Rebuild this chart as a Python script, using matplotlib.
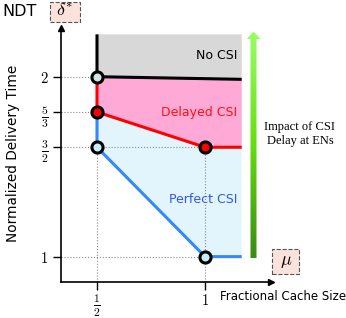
'''NDT 与缓存大小关系示意图'''

import numpy as np
import matplotlib.pyplot as plt
from matplotlib.patches import Polygon, Rectangle
from matplotlib.colors import LinearSegmentedColormap

plt.rcParams['mathtext.fontset'] = 'cm'

# 各区域边界线 (mu, NDT)
mu_no = [0.5, 0.5, 1.17]
ndt_no = [2.4, 2.0, 1.975]
mu_delayed = [0.5, 0.5, 1.0, 1.17]
ndt_delayed = [2.0, 5/3, 1.5, 1.5]
mu_perfect = [0.5, 0.5, 1.0, 1.17]
ndt_perfect = [5/3, 1.5, 1.0, 1.0]

# 角点
pts_mu = [0.5, 0.5, 0.5, 1.0, 1.0]
pts_ndt = [2.0, 5/3, 1.5, 1.5, 1.0]
pts_color = ['#d3e3e6', '#ff0000', '#c6eef8', '#ff0000', '#c6eef8']

# 刻度
yticks = [1, 1.5, 5/3, 2]
ytick_labels = ['$1$', r'$\frac{3}{2}$', r'$\frac{5}{3}$', '$2$']
xticks = [0.5, 1]
xtick_labels = [r'$\frac{1}{2}$', '$1$']

# 纵轴是示意刻度, 用分段线性映射
lv_ndt = [0, 1, 1.5, 5/3, 2, 3]
lv_pos = [-6.2, 0, 3.1, 4.1, 5.1, 8.1]
def fwd(v):
    return np.interp(v, lv_ndt, lv_pos)
def inv(p):
    return np.interp(p, lv_pos, lv_ndt)

fig = plt.figure(figsize=(3.46, 3.18), dpi=100)
ax = fig.add_axes([61/346, 36/318, 210/346, 254/318])
ax.set_yscale('function', functions=(fwd, inv))
ax.set_xlim(1/3, 1.3056)
ax.set_ylim(0.884, 2.46)

# 填充区域
ax.fill(mu_no + [1.17], ndt_no + [2.4], color='#d8d8d8', lw=0, zorder=1)
ax.fill(mu_no[1:] + mu_delayed[::-1], ndt_no[1:] + ndt_delayed[::-1],
        color='#ffaad6', lw=0, zorder=1)
ax.fill(mu_delayed[1:] + mu_perfect[::-1], ndt_delayed[1:] + ndt_perfect[::-1],
        color='#e2f5fc', lw=0, zorder=1)

# 虚线参考线
dot = dict(color='#8a8a8a', ls=':', lw=0.8, zorder=2)
ax.plot([1/3, 0.5], [2, 2], **dot)
ax.plot([1/3, 0.5], [5/3, 5/3], **dot)
ax.plot([1/3, 1.0], [1.5, 1.5], **dot)
ax.plot([1/3, 1.0], [1, 1], **dot)
ax.plot([0.5, 0.5], [0.884, 2], **dot)
ax.plot([1.0, 1.0], [0.884, 1.5], **dot)

# 边界线
ax.plot(mu_no, ndt_no, color='black', lw=2.2, zorder=3, solid_capstyle='butt')
ax.plot(mu_delayed, ndt_delayed, color='#ff0000', lw=2.2, zorder=3, solid_capstyle='butt')
ax.plot(mu_perfect, ndt_perfect, color='#3388ff', lw=2.2, zorder=3, solid_capstyle='butt')

# 角点标记
for m, n, c in zip(pts_mu, pts_ndt, pts_color):
    ax.plot(m, n, 'o', ms=8, mfc=c, mec='black', mew=2.2, zorder=4)

# 区域文字
ax.text(1.15, 2.2, 'No CSI', ha='right', va='center', fontsize=9, color='black')
ax.text(1.15, 1.665, 'Delayed CSI', ha='right', va='center', fontsize=9, color='#ff1111')
ax.text(1.15, 1.26, 'Perfect CSI', ha='right', va='center', fontsize=9, color='#3355ee')

# 坐标轴样式
for s in ['top', 'right']:
    ax.spines[s].set_visible(False)
for s in ['left', 'bottom']:
    ax.spines[s].set_linewidth(1.2)
ax.plot(1, 0, '>k', ms=5, transform=ax.transAxes, clip_on=False)
ax.plot(0, 1, '^k', ms=5, transform=ax.transAxes, clip_on=False)
ax.set_yticks(yticks)
ax.set_yticklabels(ytick_labels, fontsize=10.5)
ax.set_xticks(xticks)
ax.set_xticklabels(xtick_labels, fontsize=10.5)
for lab in ax.get_yticklabels() + ax.get_xticklabels():
    if 'frac' in lab.get_text():
        lab.set_fontsize(12)
ax.yaxis.set_minor_locator(plt.NullLocator())
ax.tick_params(direction='out', length=6, width=1, pad=3)
ax.tick_params(axis='x', pad=2)

# 坐标轴标题 (虚线框)
box = dict(fc='#fbe2da', ec='#555555', ls='--', lw=0.8, transform=fig.transFigure)
fig.patches.append(Rectangle((50/346, 1 - 22/318), 30/346, 20/318, **box))
fig.patches.append(Rectangle((272/346, 1 - 274/318), 27/346, 25/318, **box))
fig.text(20/346, 1 - 12/318, 'NDT', ha='center', va='center', fontsize=11.5)
fig.text(65/346, 1 - 12/318, r'$\delta^{*}$', ha='center', va='center', fontsize=13)
fig.text(286/346, 1 - 261/318, r'$\mu$', ha='center', va='center', fontsize=13)
fig.text(13/346, 1 - 153/318, 'Normalized Delivery Time', rotation=90,
         ha='center', va='center', fontsize=9.8)
fig.text(283/346, 1 - 297/318, 'Fractional Cache Size', ha='center', va='center', fontsize=8.5)
fig.text(300/346, 1 - 134/318, 'Impact of CSI\nDelay at ENs', ha='center', va='center',
         fontsize=9, family='Liberation Serif', linespacing=1.3)

# 绿色渐变箭头
ax2 = fig.add_axes([246/346, 1 - 258/318, 16/346, 227/318])
ax2.set_xlim(246, 262)
ax2.set_ylim(258, 31)
ax2.axis('off')
grad = np.linspace(0, 1, 256).reshape(-1, 1)
cmap = LinearSegmentedColormap.from_list('g', ['#99ff66', '#66dd11', '#3a8a14'])
img = ax2.imshow(grad, cmap=cmap, extent=(246, 262, 258, 31), aspect='auto')
arrow = Polygon([(250.5, 258), (256.5, 258), (256.5, 39), (260.5, 39),
                 (253.5, 31.5), (246.8, 39), (250.5, 39)], closed=True,
                transform=ax2.transData, fc='none', ec='none')
ax2.add_patch(arrow)
img.set_clip_path(arrow)

fig.savefig('out.png', dpi=100)
